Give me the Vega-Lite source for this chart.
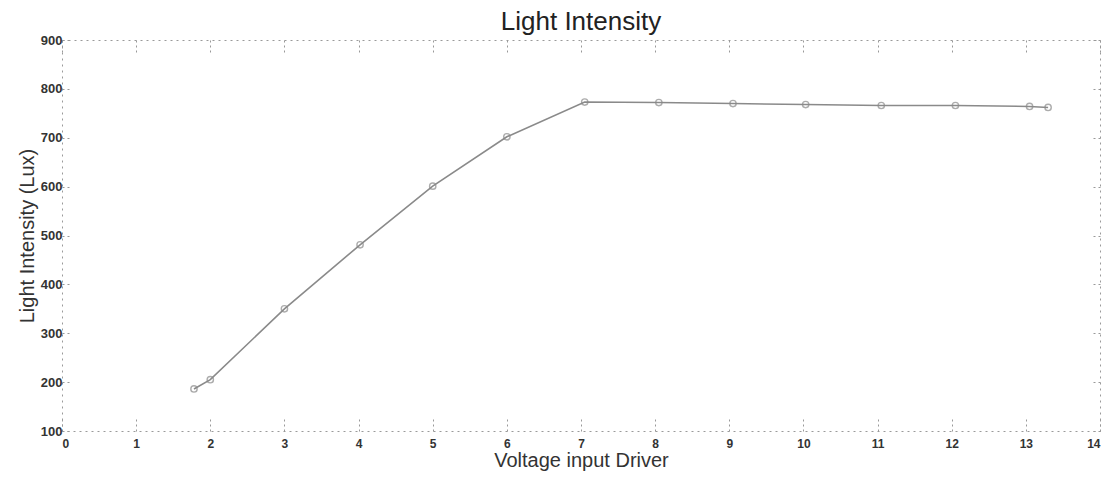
{
  "$schema": "https://vega.github.io/schema/vega-lite/v6.json",
  "autosize": "none",
  "width": 1038,
  "height": 391,
  "padding": {"left": 62, "top": 40, "right": 11, "bottom": 48},
  "background": "white",
  "config": {
    "view": {"stroke": "#9a9a9a", "strokeDash": [2, 4], "strokeWidth": 1},
    "font": "Liberation Sans"
  },
  "title": {
    "text": "Light Intensity",
    "fontSize": 26,
    "fontWeight": "normal",
    "color": "#222222",
    "font": "Liberation Sans",
    "offset": -1
  },
  "data": {
    "values": [
      {"voltage": 1.78, "lux": 186},
      {"voltage": 2.0, "lux": 205},
      {"voltage": 3.0, "lux": 350},
      {"voltage": 4.02, "lux": 481},
      {"voltage": 5.0, "lux": 601},
      {"voltage": 6.0, "lux": 702},
      {"voltage": 7.05, "lux": 773},
      {"voltage": 8.05, "lux": 772},
      {"voltage": 9.05, "lux": 770},
      {"voltage": 10.03, "lux": 768},
      {"voltage": 11.05, "lux": 766},
      {"voltage": 12.05, "lux": 766},
      {"voltage": 13.05, "lux": 764},
      {"voltage": 13.3, "lux": 762}
    ]
  },
  "layer": [
    {
      "mark": {"type": "line", "color": "#8a8a8a", "strokeWidth": 1.6},
      "encoding": {
        "x": {
          "field": "voltage", "type": "quantitative",
          "scale": {"domain": [0, 14], "nice": false, "zero": false},
          "axis": {
            "orient": "bottom",
            "title": "Voltage input Driver",
            "titleFontSize": 20,
            "titleFontWeight": "normal",
            "titleColor": "#333333",
            "titlePadding": 1,
            "values": [0,1,2,3,4,5,6,7,8,9,10,11,12,13,14],
            "labelFontSize": 12,
            "labelFontWeight": "bold",
            "labelColor": "#333333",
            "domain": false,
            "grid": false,
            "tickSize": -12,
            "tickColor": "#999999",
            "tickDash": [2, 3],
            "labelPadding": 19
          }
        },
        "y": {
          "field": "lux", "type": "quantitative",
          "scale": {"domain": [100, 900], "nice": false, "zero": false},
          "axis": {
            "orient": "left",
            "title": "Light Intensity (Lux)",
            "titleFontSize": 20,
            "titleFontWeight": "normal",
            "titleColor": "#333333",
            "titlePadding": 3,
            "values": [100,200,300,400,500,600,700,800,900],
            "labelFontSize": 13,
            "labelFontWeight": "bold",
            "labelColor": "#333333",
            "domain": false,
            "grid": false,
            "tickSize": -9,
            "tickColor": "#999999",
            "tickDash": [2, 3],
            "labelPadding": 9
          }
        }
      }
    },
    {
      "mark": {"type": "point", "shape": "circle", "filled": false, "color": "#8a8a8a", "size": 40, "strokeWidth": 1.4},
      "encoding": {
        "x": {
          "field": "voltage", "type": "quantitative",
          "scale": {"domain": [0, 14], "nice": false, "zero": false},
          "axis": {
            "orient": "top",
            "title": null,
            "values": [0,1,2,3,4,5,6,7,8,9,10,11,12,13,14],
            "labels": false,
            "domain": false,
            "grid": false,
            "tickSize": -12,
            "tickColor": "#999999",
            "tickDash": [2, 3]
          }
        },
        "y": {
          "field": "lux", "type": "quantitative",
          "scale": {"domain": [100, 900], "nice": false, "zero": false},
          "axis": {
            "orient": "right",
            "title": null,
            "values": [100,200,300,400,500,600,700,800,900],
            "labels": false,
            "domain": false,
            "grid": false,
            "tickSize": -9,
            "tickColor": "#999999",
            "tickDash": [2, 3]
          }
        }
      }
    }
  ],
  "resolve": {"axis": {"x": "independent", "y": "independent"}}
}
